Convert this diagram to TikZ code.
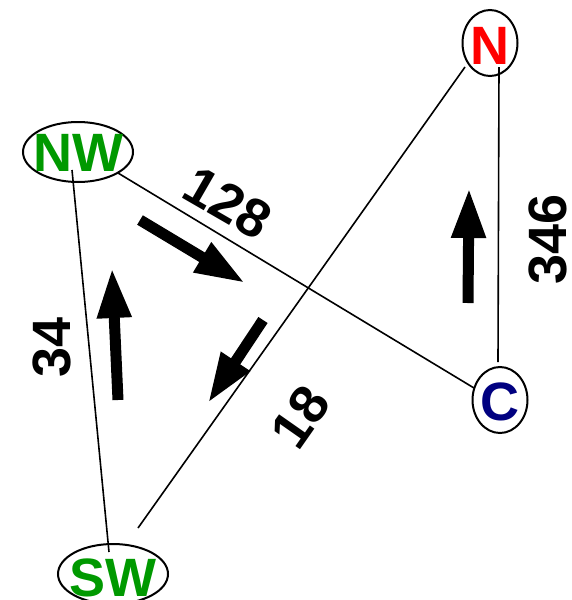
\documentclass[tikz,border=0pt]{standalone}
\usepackage{fontspec}
\setmainfont{Liberation Sans}
\usetikzlibrary{shapes.geometric,arrows.meta}
\definecolor{cgreen}{RGB}{0,153,0}
\definecolor{cred}{RGB}{255,0,0}
\definecolor{cnavy}{RGB}{0,0,128}
\begin{document}
\begin{tikzpicture}[x=1pt,y=-1pt,
  oval/.style={ellipse,draw=black,line width=2pt,inner sep=0pt},
  lbl/.style={font=\fontsize{54}{60}\selectfont\bfseries,inner sep=0pt},
  edge/.style={line width=1.6pt},
  blockarrow/.style={line width=11pt,-{Triangle[width=32pt,length=50pt]}}]
\useasboundingbox (0,0) rectangle (572,600);
% ellipses
\node[oval,minimum width=110pt,minimum height=60pt] (NW) at (78,152) {};
\node[oval,minimum width=55pt,minimum height=66pt] (N) at (490,43) {};
\node[oval,minimum width=55pt,minimum height=66pt] (C) at (500,400) {};
\node[oval,minimum width=110pt,minimum height=60pt] (SW) at (113,574) {};
% node texts
\node[lbl,text=cgreen] (NWt) at (78,153) {NW};
\node[lbl,text=cred] (Nt) at (490,46) {N};
\node[lbl,text=cnavy] (Ct) at (500,402) {C};
\node[lbl,text=cgreen] (SWt) at (113,578) {SW};
% edge end points
\coordinate (nwA) at (72,170);
\coordinate (swA) at (109,552);
\coordinate (nwB) at (118,173);
\coordinate (cB) at (474,388);
\coordinate (nC) at (499,67);
\coordinate (cC) at (498,362);
\coordinate (nD) at (465,67);
\coordinate (swD) at (138,528);
\draw[edge] (nwA) -- (swA);
\draw[edge] (nwB) -- (cB);
\draw[edge] (nC) -- (cC);
\draw[edge] (nD) -- (swD);
% edge labels
\node[lbl,rotate=-30] (l128) at (228,203) {128};
\node[lbl,rotate=90] (l346) at (548,239) {346};
\node[lbl,rotate=90] (l34) at (52,347) {34};
\node[lbl,rotate=55] (l18) at (300,417) {18};
% block arrows
\coordinate (a1t) at (140,220);
\coordinate (a1h) at (245,283);
\coordinate (a2t) at (468,303);
\coordinate (a2h) at (469,188);
\coordinate (a3t) at (118,400);
\coordinate (a3h) at (112,268);
\coordinate (a4t) at (263,320);
\coordinate (a4h) at (208,403);
\draw[blockarrow] (a1t) -- (a1h);
\draw[blockarrow] (a2t) -- (a2h);
\draw[blockarrow] (a3t) -- (a3h);
\draw[blockarrow] (a4t) -- (a4h);
\end{tikzpicture}
\end{document}
